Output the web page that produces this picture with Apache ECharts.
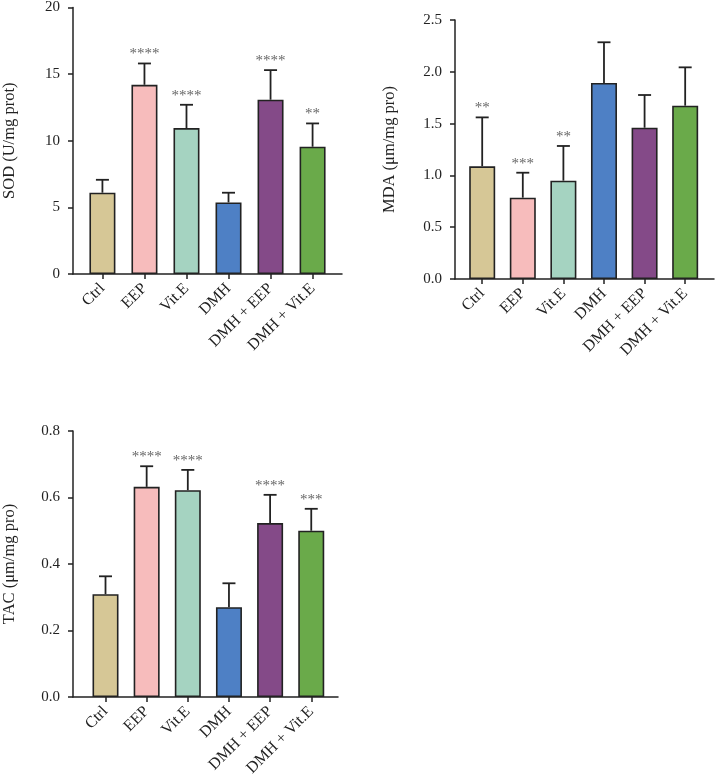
<!DOCTYPE html>
<html><head><meta charset="utf-8">
<script src="https://cdn.jsdelivr.net/npm/echarts@6/dist/echarts.min.js"></script>
<style>html,body{margin:0;padding:0;background:#fff}#c{width:716px;height:781px}</style>
</head><body><div id="c"></div>
<script>
const categories = ['Ctrl', 'EEP', 'Vit.E', 'DMH', 'DMH + EEP', 'DMH + Vit.E'];
const barColors = ['#d6c796', '#f7bcbc', '#a5d3c1', '#4e80c5', '#844a88', '#6aaa4a'];

const sodMean = [6.1, 14.2, 10.95, 5.37, 13.08, 9.55];
const sodUpper = [7.07, 15.8, 12.7, 6.1, 15.3, 11.3];
const sodStars = ['', '****', '****', '', '****', '**'];

const mdaMean = [1.088, 0.785, 0.949, 1.892, 1.46, 1.673];
const mdaUpper = [1.56, 1.026, 1.284, 2.285, 1.776, 2.043];
const mdaStars = ['**', '***', '**', '', '', ''];

const tacMean = [0.309, 0.632, 0.622, 0.270, 0.523, 0.50];
const tacUpper = [0.363, 0.694, 0.683, 0.342, 0.608, 0.566];
const tacStars = ['', '****', '****', '', '****', '***'];

const catIdx = [0, 1, 2, 3, 4, 5];
const FONT = 'Liberation Serif';
const INK = '#222';

const chart = echarts.init(document.getElementById('c'), null, {renderer: 'canvas'});

function xAx(gi, min, max) {
  return {
    type: 'value', gridIndex: gi, min: min, max: max,
    axisLine: {show: true, onZero: false, lineStyle: {color: INK, width: 1.5}},
    axisTick: {show: true, customValues: catIdx, length: 5, lineStyle: {color: INK, width: 1.5}},
    axisLabel: {customValues: catIdx, formatter: v => categories[Math.round(v)], rotate: 45, margin: 12,
      fontFamily: FONT, fontSize: 16, color: INK},
    splitLine: {show: false}
  };
}
function yAx(gi, max, interval, name, dec, gap) {
  return {
    type: 'value', gridIndex: gi, min: 0, max: max, interval: interval,
    name: name, nameLocation: 'middle', nameGap: gap, nameRotate: 90,
    nameTextStyle: {fontFamily: FONT, fontSize: 16.5, color: INK},
    axisLine: {show: true, onZero: false, lineStyle: {color: INK, width: 1.5}},
    axisTick: {show: true, length: 5, lineStyle: {color: INK, width: 1.5}},
    axisLabel: {margin: 13, fontFamily: FONT, fontSize: 15, color: INK, formatter: v => v.toFixed(dec)},
    splitLine: {show: false}
  };
}
function barSeries(gi, means) {
  return {
    type: 'bar', xAxisIndex: gi, yAxisIndex: gi, barWidth: 26,
    itemStyle: {borderColor: INK, borderWidth: 1.6},
    data: means.map((v, i) => ({value: [i, v], itemStyle: {color: barColors[i]}})),
    z: 2
  };
}
function errSeries(gi, means, uppers, stars) {
  return {
    type: 'custom', xAxisIndex: gi, yAxisIndex: gi, z: 1,
    encode: {x: 0, y: [1, 2]},
    data: means.map((v, i) => [i, v, uppers[i]]),
    renderItem: function (params, api) {
      const i = api.value(0), m = api.value(1), e = api.value(2);
      const p0 = api.coord([i, m]), p1 = api.coord([i, e]);
      const half = 6.5;
      const ch = [
        {type: 'line', shape: {x1: p0[0], y1: p0[1], x2: p1[0], y2: p1[1]}, style: {stroke: INK, lineWidth: 1.8}},
        {type: 'line', shape: {x1: p1[0] - half, y1: p1[1], x2: p1[0] + half, y2: p1[1]}, style: {stroke: INK, lineWidth: 1.8}}
      ];
      const s = stars[params.dataIndex];
      if (s) ch.push({type: 'text', x: p1[0], y: p1[1] - 9,
        style: {text: s, fill: '#666', font: '15px "Liberation Serif"', align: 'center', verticalAlign: 'middle'}});
      return {type: 'group', children: ch};
    }
  };
}

chart.setOption({
  animation: false,
  backgroundColor: '#fff',
  grid: [
    {left: 70, top: 6, width: 272, height: 268},
    {left: 455, top: 20, width: 259, height: 259},
    {left: 70, top: 431, width: 268, height: 266}
  ],
  xAxis: [xAx(0, -0.7, 5.7), xAx(1, -0.67, 5.71), xAx(2, -0.79, 5.65)],
  yAxis: [
    yAx(0, 20, 5, 'SOD (U/mg prot)', 0, 55),
    yAx(1, 2.5, 0.5, 'MDA (μm/mg pro)', 1, 57),
    yAx(2, 0.8, 0.2, 'TAC (μm/mg pro)', 1, 55)
  ],
  series: [
    barSeries(0, sodMean), errSeries(0, sodMean, sodUpper, sodStars),
    barSeries(1, mdaMean), errSeries(1, mdaMean, mdaUpper, mdaStars),
    barSeries(2, tacMean), errSeries(2, tacMean, tacUpper, tacStars)
  ]
});
</script>
</body></html>
